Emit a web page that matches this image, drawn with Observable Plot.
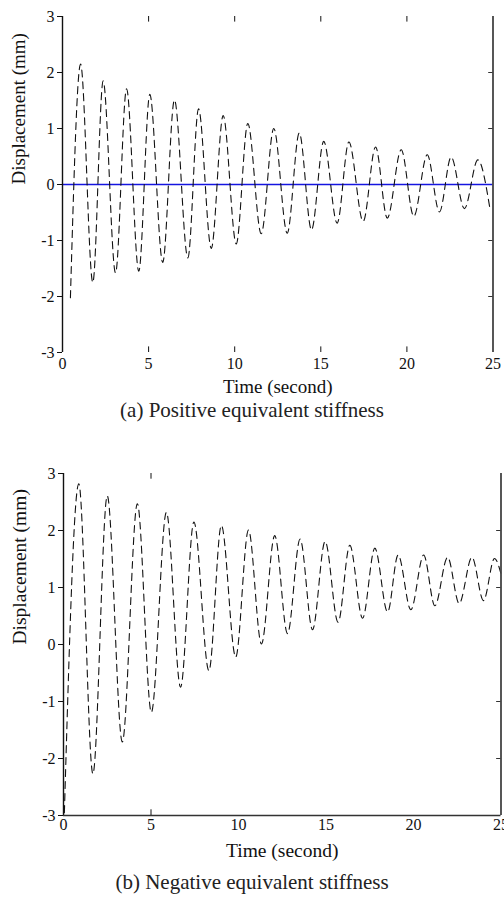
<!DOCTYPE html>
<html><head><meta charset="utf-8">
<script src="https://cdn.jsdelivr.net/npm/d3@7"></script>
<script src="https://cdn.jsdelivr.net/npm/@observablehq/plot@0.6"></script>
<style>
body{margin:0;background:#fff;width:504px;height:904px;position:relative;overflow:hidden;font-family:"Liberation Serif","DejaVu Serif",serif;}
.panel{position:absolute;left:0;}
.cap{position:absolute;left:0;width:504px;text-align:center;font-size:21px;color:#222;line-height:22px;}
</style></head><body>
<div id="a" class="panel" style="top:0px"></div>
<div class="cap" style="top:399px">(a) Positive equivalent stiffness</div>
<div id="b" class="panel" style="top:440px"></div>
<div class="cap" style="top:871px">(b) Negative equivalent stiffness</div>
<script>
// ---- Panel (a): positive equivalent stiffness (peaks and troughs)
const aPeakT   = [1.05, 2.36, 3.72, 5.07, 6.50, 7.90, 9.33, 10.76, 12.27, 13.75, 15.17, 16.63, 18.18, 19.67, 21.18, 22.57, 24.12];
const aPeakV   = [2.15, 1.85, 1.71, 1.61, 1.51, 1.35, 1.23, 1.09, 1.00, 0.92, 0.77, 0.76, 0.67, 0.62, 0.53, 0.49, 0.44];
const aTroughT = [0.46, 1.76, 3.08, 4.43, 5.82, 7.28, 8.64, 10.09, 11.54, 13.05, 14.46, 15.95, 17.46, 18.86, 20.40, 21.89, 23.34, 24.80];
const aTroughV = [-2.02, -1.75, -1.58, -1.55, -1.39, -1.31, -1.14, -1.06, -0.88, -0.87, -0.81, -0.69, -0.66, -0.60, -0.57, -0.49, -0.43, -0.39];

// ---- Panel (b): negative equivalent stiffness
const bPeakT   = [0.875, 2.50, 4.22, 5.88, 7.45, 9.02, 10.57, 12.07, 13.52, 14.95, 16.36, 17.79, 19.12, 20.58, 21.95, 23.34, 24.63];
const bPeakV   = [2.82, 2.61, 2.47, 2.32, 2.15, 2.09, 2.01, 1.91, 1.85, 1.81, 1.74, 1.69, 1.57, 1.57, 1.53, 1.53, 1.51];
const bTroughT = [0.05, 1.68, 3.36, 5.02, 6.69, 8.31, 9.84, 11.31, 12.80, 14.23, 15.69, 17.09, 18.52, 19.85, 21.22, 22.61, 24.00, 25.00];
const bTroughV = [-2.95, -2.27, -1.71, -1.19, -0.75, -0.46, -0.22, 0.01, 0.19, 0.26, 0.39, 0.46, 0.57, 0.61, 0.68, 0.72, 0.77, 1.24];

// ---- Axis ticks / labels
const xTicks = [0, 5, 10, 15, 20, 25];
const yTicks = [-3, -2, -1, 0, 1, 2, 3];
const aInnerXTicks = [5, 10, 15, 20];
const bInnerXTicks = [5];
const rightTicks = [-2, -1, 1, 2];
const xLabel = "Time (second)";
const yLabel = "Displacement (mm)";

function series(pt, pv, tt, tv) {
  const rows = pt.map((t, i) => ({t, v: pv[i]})).concat(tt.map((t, i) => ({t, v: tv[i]})));
  return rows.sort((a, b) => a.t - b.t);
}

function panel({data, height, mt, mb, ml, mr, innerX, zero, frameBottom, xPad, labFs, labDy}) {
  const font = "Liberation Serif, DejaVu Serif, serif";
  return Plot.plot({
    width: 504, height,
    marginTop: mt, marginBottom: mb, marginLeft: ml, marginRight: mr,
    style: {fontFamily: font, fontSize: "16px", color: "#111", background: "white", overflow: "visible"},
    x: {domain: [0, 25]},
    y: {domain: [-3, 3]},
    marks: [
      zero ? Plot.ruleY([0], {stroke: "#1515e0", strokeWidth: 1.6}) : null,
      Plot.line(data, {x: "t", y: "v", curve: "monotone-x", stroke: "#111", strokeWidth: 1.1, strokeDasharray: "7,5"}),
      Plot.ruleX([0], {stroke: "#111", strokeWidth: 1.4}),
      Plot.ruleX([25], {stroke: "#444", strokeWidth: 1.8}),
      frameBottom ? Plot.ruleY([-3], {stroke: "#333", strokeWidth: 1.4}) : null,
      Plot.ruleX(innerX, {y1: -3, y2: -2.9, stroke: "#111"}),
      Plot.ruleX(innerX, {y1: 2.9, y2: 3, stroke: "#111"}),
      Plot.ruleY(rightTicks, {x1: 24.75, x2: 25, stroke: "#333"}),
      Plot.axisY({ticks: yTicks, tickSize: 5, tickPadding: 3, tickFormat: d => String(d), label: null, fontSize: 16}),
      Plot.axisX({ticks: xTicks, tickSize: 0, tickPadding: xPad, tickFormat: d => String(d), label: null, fontSize: 16}),
      Plot.text([xLabel], {frameAnchor: "bottom", dy: labDy, lineAnchor: "middle", fontSize: labFs, fill: "#111"}),
      Plot.text([yLabel], {frameAnchor: "left", dx: -44, rotate: -90, lineAnchor: "middle", fontSize: labFs, fill: "#111"})
    ]
  });
}

document.getElementById("a").append(panel({
  data: series(aPeakT, aPeakV, aTroughT, aTroughV),
  height: 398, mt: 16, mb: 46, ml: 62, mr: 11.5, innerX: aInnerXTicks, zero: true, frameBottom: false, xPad: 5, labFs: 19, labDy: 34
}));
document.getElementById("b").append(panel({
  data: series(bPeakT, bPeakV, bTroughT, bTroughV),
  height: 432, mt: 33, mb: 57, ml: 63, mr: 3.5, innerX: bInnerXTicks, zero: false, frameBottom: true, xPad: 3, labFs: 19.5, labDy: 35
}));
</script>
</body></html>
